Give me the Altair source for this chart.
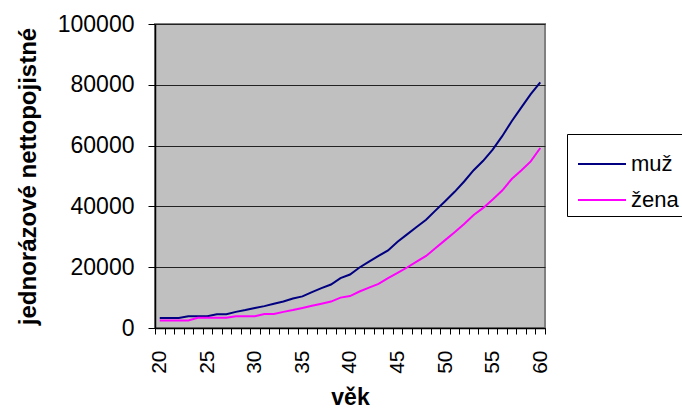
import altair as alt
import pandas as pd

# Age of the insured (years)
ages = list(range(20, 61))

# Single net premium by age
muz = [3300, 3300, 3300, 3900, 3900, 3900, 4500, 4500, 5300, 5900,
       6600, 7200, 8000, 8700, 9700, 10400, 11800, 13100, 14300, 16400,
       17600, 19900, 21800, 23700, 25500, 28400, 30800, 33200, 35600, 38700,
       41700, 44800, 48200, 51900, 55000, 58700, 63100, 68000, 72500, 76900,
       80800]
zena = [2500, 2500, 2500, 2500, 3400, 3400, 3400, 3400, 3900, 3900,
        3900, 4600, 4600, 5300, 5900, 6600, 7300, 8000, 8700, 10000,
        10500, 12000, 13300, 14500, 16400, 18100, 19900, 21800, 23700, 26300,
        28900, 31500, 34200, 37200, 39500, 42300, 45200, 49000, 51800, 54800,
        59200]

series_names = ["muž", "žena"]
series_colors = ["#000080", "#FF00FF"]

df = pd.concat([
    pd.DataFrame({"věk": ages, "hodnota": muz, "pohlaví": series_names[0]}),
    pd.DataFrame({"věk": ages, "hodnota": zena, "pohlaví": series_names[1]}),
])

# category boundaries carry the tick marks; labels sit at the category centres
boundaries = [a - 0.5 for a in ages] + [ages[-1] + 0.5]

FONT = "Liberation Sans"

chart = alt.Chart(df).mark_line(strokeWidth=2).encode(
    x=alt.X(
        "věk:Q",
        scale=alt.Scale(domain=[19.5, 60.5], nice=False, zero=False),
        axis=alt.Axis(
            title="věk",
            values=boundaries,
            labelExpr="(datum.value + 0.5) % 5 == 0 ? format(datum.value + 0.5, 'd') : ''",
            labelOffset=4.75,
            labelAngle=270,
            labelOverlap=False,
            labelBound=False,
            labelFlush=False,
            labelPadding=16,
            labelFontSize=21,
            tickSize=6,
            grid=False,
            titlePadding=13,
        ),
    ),
    y=alt.Y(
        "hodnota:Q",
        scale=alt.Scale(domain=[0, 100000], nice=False),
        axis=alt.Axis(
            title="jednorázové nettopojistné",
            values=[0, 20000, 40000, 60000, 80000, 100000],
            format="d",
            labelFontSize=23,
            labelPadding=14,
            tickSize=7,
            grid=True,
            titlePadding=17,
            titleFontSize=24,
        ),
    ),
    color=alt.Color(
        "pohlaví:N",
        scale=alt.Scale(domain=series_names, range=series_colors),
        legend=alt.Legend(
            title=None,
            orient="none",
            legendX=412,
            legendY=110,
            symbolType="stroke",
            symbolSize=2304,
            symbolStrokeWidth=2,
            symbolOffset=5,
            labelFontSize=22,
            labelOffset=4,
            padding=5,
            strokeColor="#000000",
            rowPadding=-1,
        ),
    ),
).properties(
    width=390,
    height=304,
    autosize=alt.AutoSizeParams(type="none"),
    padding={"left": 155, "top": 24, "right": 137, "bottom": 84},
).configure(
    font=FONT,
    background="white",
).configure_view(
    fill="#C0C0C0",
    stroke="#808080",
    strokeWidth=2,
).configure_axis(
    domainColor="#000000",
    domainWidth=1.5,
    tickColor="#000000",
    tickWidth=1,
    gridColor="#222222",
    gridWidth=1,
    labelColor="#000000",
    labelFont=FONT,
    titleFont=FONT,
    titleFontSize=23,
    titleFontWeight="bold",
    titleColor="#000000",
).configure_legend(
    labelFont=FONT,
    labelColor="#000000",
)

chart.save("out.html", embed_options={"renderer": "svg", "actions": False})
